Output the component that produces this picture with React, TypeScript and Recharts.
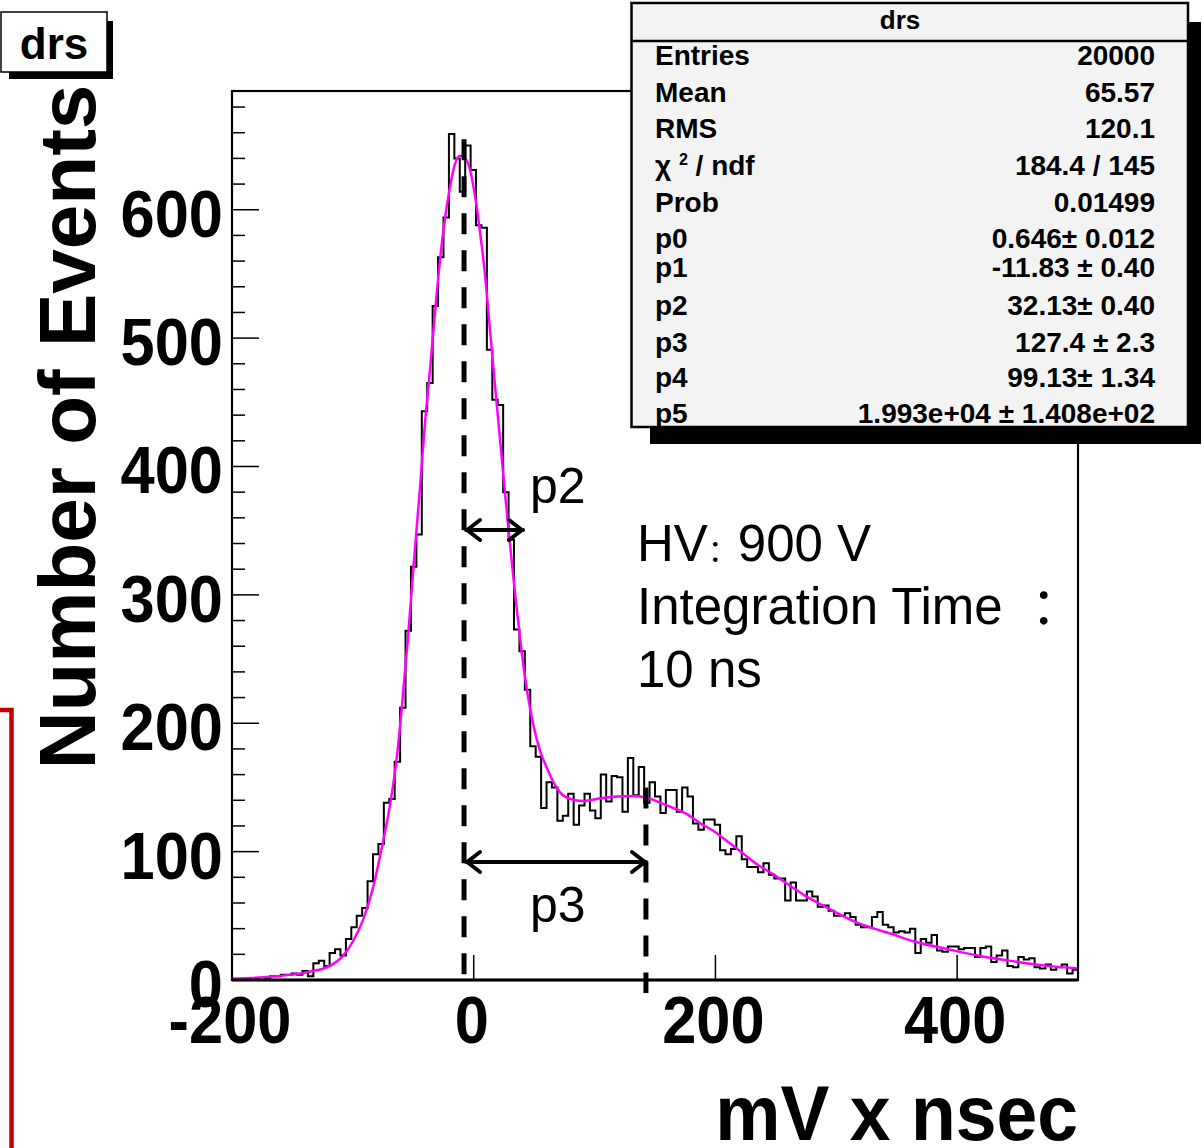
import { ComposedChart, Line, XAxis, YAxis } from 'recharts';

// histogram "drs": counts per bin, -200 .. 500 mV x nsec
const HIST_START = -200;
const HIST_END = 500;
const HIST_COUNTS = [
  0, 0, 0, 0, 1, 0, 1, 3, 3, 4, 4, 5, 4,
  7, 3, 13, 15, 11, 21, 24, 19, 32, 41,
  50, 56, 77, 98, 106, 138, 141, 170, 212, 272,
  322, 347, 443, 465, 525, 563, 594, 659, 640, 614,
  650, 631, 588, 586, 491, 452, 448, 380, 343, 273,
  256, 226, 182, 174, 134, 154, 150, 124, 128, 145,
  121, 136, 145, 132, 126, 160, 139, 159, 158, 131,
  173, 144, 166, 138, 154, 143, 130, 148, 148, 131,
  150, 143, 122, 117, 125, 125, 121, 101, 98, 102,
  112, 94, 88, 88, 84, 91, 82, 79, 79, 62,
  76, 62, 62, 69, 65, 57, 58, 54, 50, 50,
  52, 49, 43, 41, 41, 49, 53, 43, 41, 37,
  38, 37, 40, 21, 32, 29, 35, 23, 22, 26,
  26, 24, 25, 25, 18, 25, 26, 14, 19, 23,
  11, 10, 18, 16, 17, 10, 9, 12, 8, 10,
  12, 5, 8,
];

// fitted function (magenta)
const FIT_X = [
  -200, -185, -170, -152, -136, -119, -108, -100, -91.5, -83, -75, -69.3, -63.8, -59.6,
  -54.1, -50, -44.4, -40.3, -36.2, -30.6, -25.1, -19.6, -15.4, -11.3, -7.1, -3, 1.2,
  5.3, 9.5, 13.6, 17.7, 21.9, 26, 30.2, 34.3, 38.5, 44, 49.5, 55, 60.6, 66, 71.6, 80,
  90.7, 104.8, 118.7, 132, 143.5, 154.6, 165.3, 176.7, 187.7, 198.5, 207, 220.9, 234.7,
  248.5, 262.4, 276.2, 290, 303.8, 317.7, 331.4, 345.3, 364.6, 392.3, 420, 447.3, 475.2, 500,
];
const FIT_Y = [
  1, 1.5, 2.5, 4, 6.5, 11, 19, 30, 47, 73, 108, 136, 172, 211,
  270, 320, 384, 434, 475, 535, 584, 618, 636, 642, 640, 631, 610,
  582, 548, 505, 462, 420, 378, 338, 300, 265, 226, 198, 178, 165, 154, 146, 141,
  139.5, 141.5, 143, 143.3, 142, 138, 134, 129, 122, 116, 110, 100, 90,
  82, 73, 64.5, 57.5, 50.5, 44.5, 40, 36, 30, 24, 18.5, 14.5, 11, 9,
];

const X_TICKS = [-200, 0, 200, 400];
const Y_TICKS = [
  0, 20, 40, 60, 80, 100, 120, 140, 160, 180, 200, 220, 240, 260, 280, 300, 320, 340,
  360, 380, 400, 420, 440, 460, 480, 500, 520, 540, 560, 580, 600, 620, 640, 660, 680,
];
const Y_MAX = 692.5;

const STAT_LABELS = ['Entries', 'Mean', 'RMS', 'chi', 'Prob', 'p0', 'p1', 'p2', 'p3', 'p4', 'p5'];
const STAT_VALUES = [
  '20000', '65.57', '120.1', '184.4 / 145', '0.01499',
  '0.646\u00b1 0.012', '-11.83 \u00b1 0.40', '32.13\u00b1 0.40',
  '127.4 \u00b1 2.3', '99.13\u00b1 1.34', '1.993e+04 \u00b1 1.408e+02',
];
const STAT_BASELINES = [65, 102, 138, 175, 212, 248, 277, 315, 352, 387, 423];

// hand-drawn markers (data units)
const P1_MARK = -8;
const P3_MARK = 142.5;

const W = 1202;
const H = 1148;
const PLOT_LEFT = 232;
const PLOT_RIGHT = 1078;
const PLOT_TOP = 91;
const PLOT_BOTTOM = 980;
const FONT = '"Liberation Sans", Arial, Helvetica, "Noto Sans CJK SC", sans-serif';

const xPx = (v: number) => PLOT_LEFT + ((v - HIST_START) / (HIST_END - HIST_START)) * (PLOT_RIGHT - PLOT_LEFT);
const yPx = (v: number) => PLOT_BOTTOM - (v / Y_MAX) * (PLOT_BOTTOM - PLOT_TOP);

const binWidth = (HIST_END - HIST_START) / HIST_COUNTS.length;
const histData = [
  ...HIST_COUNTS.map((c, i) => ({ x: HIST_START + i * binWidth, count: c })),
  { x: HIST_END, count: HIST_COUNTS[HIST_COUNTS.length - 1] },
];
const fitData = FIT_X.map((x, i) => ({ x, fit: FIT_Y[i] }));

function XTick(props: any) {
  const { x, payload } = props;
  return (
    <g>
      <line x1={x} x2={x} y1={PLOT_BOTTOM} y2={PLOT_BOTTOM - 25} stroke="#000" strokeWidth={1.5} />
      <text
        transform={`translate(${x - 2},${PLOT_BOTTOM + 63}) scale(0.93,1)`}
        textAnchor="middle"
        fontSize={66}
        fontWeight="bold"
        fontFamily={FONT}
        fill="#000"
      >
        {payload.value}
      </text>
    </g>
  );
}

function YTick(props: any) {
  const { y, payload } = props;
  const major = payload.value % 100 === 0;
  return (
    <g>
      <line x1={PLOT_LEFT} x2={PLOT_LEFT + (major ? 27 : 13)} y1={y} y2={y} stroke="#000" strokeWidth={1.5} />
      {major && (
        <text
          transform={`translate(${PLOT_LEFT - 9},${y + 27}) scale(0.93,1)`}
          textAnchor="end"
          fontSize={66}
          fontWeight="bold"
          fontFamily={FONT}
          fill="#000"
        >
          {payload.value}
        </text>
      )}
    </g>
  );
}

function Arrow({ x1, x2, y }: { x1: number; x2: number; y: number }) {
  return (
    <g stroke="#000" strokeWidth={4} fill="none" strokeLinecap="round" strokeLinejoin="round">
      <line x1={x1} x2={x2} y1={y} y2={y} />
      <polyline points={`${x1 + 14},${y - 10} ${x1 + 1},${y} ${x1 + 14},${y + 10}`} />
      <polyline points={`${x2 - 14},${y - 10} ${x2 - 1},${y} ${x2 - 14},${y + 10}`} />
    </g>
  );
}

function Overlay() {
  return (
    <svg width={W} height={H} style={{ position: 'absolute', left: 0, top: 0, pointerEvents: 'none' }}>
      {/* frame */}
      <rect
        x={PLOT_LEFT}
        y={PLOT_TOP}
        width={PLOT_RIGHT - PLOT_LEFT}
        height={PLOT_BOTTOM - PLOT_TOP}
        fill="none"
        stroke="#000"
        strokeWidth={2.2}
      />
      <line x1={PLOT_LEFT} x2={PLOT_RIGHT} y1={PLOT_BOTTOM} y2={PLOT_BOTTOM} stroke="#000" strokeWidth={2.8} />

      {/* marker lines and arrows */}
      <line
        x1={xPx(P1_MARK)}
        x2={xPx(P1_MARK)}
        y1={yPx(655)}
        y2={PLOT_BOTTOM - 4}
        stroke="#000"
        strokeWidth={5}
        strokeDasharray="21 16"
      />
      <line
        x1={xPx(P3_MARK)}
        x2={xPx(P3_MARK)}
        y1={yPx(150)}
        y2={PLOT_BOTTOM + 13}
        stroke="#000"
        strokeWidth={5}
        strokeDasharray="21 16"
      />
      <Arrow x1={xPx(P1_MARK) + 2} x2={523} y={530} />
      <Arrow x1={xPx(P1_MARK) + 2} x2={xPx(P3_MARK)} y={862} />

      <g fontFamily={FONT} fill="#000" fontSize={51}>
        <text x={530} y={503} fontSize={50}>p2</text>
        <text x={530} y={922} fontSize={50}>p3</text>
        <text x={637} y={561}>
          HV<tspan fontSize={30}>{'\uff1a'}</tspan>900 V
        </text>
        <text x={637} y={624}>
          Integration Time <tspan dx={14}>{'\uff1a'}</tspan>
        </text>
        <text x={637} y={687}>10 ns</text>
      </g>

      {/* axis titles */}
      <text
        transform="translate(95,427) rotate(-90)"
        textAnchor="middle"
        fontSize={80}
        fontWeight="bold"
        fontFamily={FONT}
        fill="#000"
      >
        Number of Events
      </text>
      <text
        transform={`translate(${PLOT_RIGHT},1140) scale(0.94,1)`}
        textAnchor="end"
        fontSize={78}
        fontWeight="bold"
        fontFamily={FONT}
        fill="#000"
      >
        mV x nsec
      </text>

      {/* title box */}
      <rect x={9} y={21} width={104} height={58} fill="#000" />
      <rect x={1} y={12} width={106} height={60} fill="#fff" stroke="#000" strokeWidth={1.5} />
      <text x={54} y={59} textAnchor="middle" fontSize={44} fontWeight="bold" fontFamily={FONT} fill="#000">
        drs
      </text>

      {/* stats box */}
      <rect x={650} y={22} width={551} height={422} fill="#000" />
      <rect x={631.5} y={3} width={556.5} height={424} fill="#f3f3f3" stroke="#000" strokeWidth={2.5} />
      <line x1={631.5} x2={1188} y1={41} y2={41} stroke="#000" strokeWidth={2.5} />
      <g fontFamily={FONT} fontWeight="bold" fill="#000">
        <text x={900} y={29} textAnchor="middle" fontSize={26}>
          drs
        </text>
        {STAT_LABELS.map((label, i) => (
          <text key={label} x={655} y={STAT_BASELINES[i]} fontSize={28}>
            {label === 'chi' ? (
              <>
                {'\u03c7 '}
                <tspan dy={-10} fontSize={16}>
                  2
                </tspan>
                <tspan dy={10}>{' / ndf'}</tspan>
              </>
            ) : (
              label
            )}
          </text>
        ))}
        {STAT_VALUES.map((v, i) => (
          <text key={i} x={1155} y={STAT_BASELINES[i]} textAnchor="end" fontSize={28}>
            {v}
          </text>
        ))}
      </g>

      {/* slide border (red) */}
      <path d={`M0,710 L11.5,710 L11.5,${H}`} fill="none" stroke="#c00000" strokeWidth={4.5} />
    </svg>
  );
}

export default function App() {
  return (
    <div style={{ position: 'absolute', left: 0, top: 0, width: W, height: H, background: '#fff' }}>
      <ComposedChart
        width={W}
        height={H}
        margin={{ top: PLOT_TOP, right: W - PLOT_RIGHT, bottom: H - PLOT_BOTTOM - 60, left: PLOT_LEFT - 80 }}
      >
        <XAxis
          type="number"
          dataKey="x"
          domain={[HIST_START, HIST_END]}
          ticks={X_TICKS}
          interval={0}
          height={60}
          axisLine={false}
          tickLine={false}
          tick={(p: any) => <XTick {...p} />}
          allowDataOverflow
        />
        <YAxis
          type="number"
          domain={[0, Y_MAX]}
          ticks={Y_TICKS}
          interval={0}
          width={80}
          axisLine={false}
          tickLine={false}
          tick={(p: any) => <YTick {...p} />}
          allowDataOverflow
        />
        <Line
          data={histData}
          dataKey="count"
          type="stepAfter"
          stroke="#000"
          strokeWidth={2}
          dot={false}
          activeDot={false}
          isAnimationActive={false}
        />
        <Line
          data={fitData}
          dataKey="fit"
          type="monotone"
          stroke="#ff00ff"
          strokeWidth={2.5}
          dot={false}
          activeDot={false}
          isAnimationActive={false}
        />
      </ComposedChart>
      <Overlay />
    </div>
  );
}
